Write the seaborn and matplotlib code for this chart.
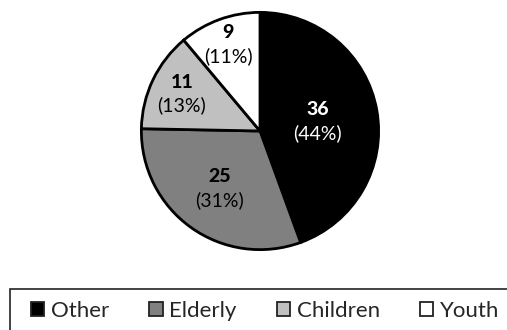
import matplotlib
matplotlib.use("Agg")
import matplotlib.pyplot as plt
from matplotlib.patches import Rectangle, Patch
import numpy as np
import seaborn as sns

# Data
categories = ["Other", "Elderly", "Children", "Youth"]
counts = [36, 25, 11, 9]
percents = [44, 31, 13, 11]
slice_colors = ["#000000", "#808080", "#c0c0c0", "#ffffff"]
label_colors = ["white", "black", "black", "black"]

# label radius (fraction of pie radius) for each wedge
label_radius = [0.49, 0.59, 0.73, 0.78]

sns.set_theme(style="white")
plt.rcParams["font.family"] = ["Lato", "DejaVu Sans"]

W, H = 507, 330
fig = plt.figure(figsize=(W / 100, H / 100), dpi=100)
fig.patch.set_facecolor("white")

# pie axes: centre (260, 131) px, radius 121 px
cx, cy, r = 260, 131, 121
ax = fig.add_axes([(cx - r) / W, (H - cy - r) / H, 2 * r / W, 2 * r / H])
wedges, _ = ax.pie(
    counts,
    colors=slice_colors,
    startangle=90,
    counterclock=False,
    radius=1.0,
    wedgeprops=dict(edgecolor="black", linewidth=2.0),
)
ax.set_xlim(-1.02, 1.02)
ax.set_ylim(-1.02, 1.02)
ax.set_aspect("equal")
ax.axis("off")

for w, n, p, c, rad in zip(wedges, counts, percents, label_colors, label_radius):
    ang = np.deg2rad((w.theta1 + w.theta2) / 2)
    x, y = rad * np.cos(ang), rad * np.sin(ang)
    ax.text(x, y + 0.095, f"{n}", ha="center", va="center", fontsize=14,
            fontweight="black", color=c)
    ax.text(x, y - 0.10, f"({p}%)", ha="center", va="center", fontsize=14,
            color=c)

# legend frame running off the right and bottom edges
fig.add_artist(Rectangle((10 / W, -0.1), 1.2, (H - 289) / H + 0.1,
                         transform=fig.transFigure, fill=False,
                         edgecolor="#222222", linewidth=1.2))

handles = [Patch(facecolor=c, edgecolor="#222222", linewidth=1.3) for c in slice_colors]
fig.legend(handles, categories, ncol=4, frameon=False,
           loc="center left", bbox_to_anchor=(31 / W, 1 - 311 / H),
           borderpad=0, borderaxespad=0,
           fontsize=16, handlelength=0.6, handleheight=0.6,
           handletextpad=0.3, columnspacing=1.8)

fig.savefig("out.png", dpi=100)
